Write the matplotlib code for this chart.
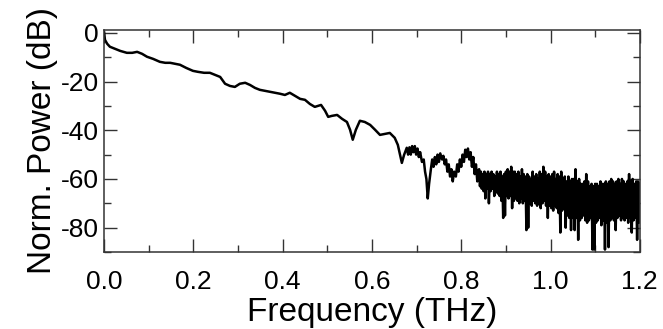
import matplotlib
matplotlib.use("Agg")
import matplotlib.pyplot as plt
from matplotlib.ticker import MultipleLocator

plt.rcParams.update(
    {
        "font.family": ["Liberation Sans", "DejaVu Sans"],
        "axes.unicode_minus": False,
    }
)

# spectrum: smooth roll-off up to ~0.84 THz
FREQ_LOW = [
    0.000, 0.002, 0.007, 0.013, 0.025, 0.036, 0.051, 0.063, 0.074, 0.085,
    0.096, 0.110, 0.125, 0.137, 0.148, 0.159, 0.170, 0.184, 0.199, 0.210,
    0.224, 0.237, 0.248, 0.260, 0.271, 0.282, 0.293, 0.304, 0.316, 0.327,
    0.338, 0.349, 0.360, 0.372, 0.383, 0.394, 0.405, 0.416, 0.428, 0.439,
    0.450, 0.461, 0.472, 0.479, 0.486, 0.495, 0.502, 0.510, 0.522, 0.533,
    0.544, 0.551, 0.557, 0.564, 0.573, 0.584, 0.596, 0.607, 0.618, 0.629,
    0.640, 0.651, 0.658, 0.663, 0.667, 0.672, 0.678, 0.681, 0.684, 0.687,
    0.690, 0.693, 0.696, 0.699, 0.702, 0.705, 0.708, 0.712, 0.716, 0.719,
    0.722, 0.725, 0.728, 0.732, 0.735, 0.738, 0.741, 0.744, 0.747, 0.750,
    0.753, 0.757, 0.760, 0.763, 0.766, 0.769, 0.772, 0.775, 0.778, 0.781,
    0.784, 0.788, 0.791, 0.794, 0.797, 0.800, 0.803, 0.806, 0.809, 0.812,
    0.815, 0.818, 0.821, 0.824, 0.827, 0.830, 0.833, 0.836, 0.838,
]
POWER_LOW = [
    0.0, -2.9, -4.5, -5.7, -6.6, -7.4, -8.2, -8.2, -7.8, -8.6,
    -9.8, -10.7, -11.9, -12.3, -12.3, -12.7, -13.1, -14.4, -15.6, -16.0,
    -16.4, -16.4, -17.2, -18.1, -20.9, -21.8, -22.2, -20.9, -20.5, -21.4,
    -22.6, -23.4, -23.8, -24.2, -24.6, -25.0, -25.5, -24.6, -25.9, -27.1,
    -27.5, -29.2, -30.4, -30.0, -29.6, -32.0, -34.5, -34.1, -33.7, -35.3,
    -36.6, -39.8, -43.9, -39.8, -36.1, -36.6, -37.8, -39.8, -41.9, -41.5,
    -41.1, -43.1, -46.0, -50.1, -53.4, -50.1, -47.2, -50.0, -47.0, -50.0,
    -46.5, -49.0, -46.5, -50.0, -47.5, -51.0, -49.0, -53.0, -52.0, -57.0,
    -60.0, -68.0, -62.0, -56.0, -52.0, -55.0, -51.0, -54.0, -50.0, -53.0,
    -49.5, -52.0, -50.5, -54.0, -52.0, -57.0, -54.0, -59.0, -56.0, -61.0,
    -57.0, -59.0, -54.0, -57.0, -52.0, -55.0, -50.0, -53.0, -48.0, -51.0,
    -47.5, -52.0, -49.0, -55.0, -51.0, -58.0, -54.0, -61.0, -57.0,
]

# noise floor above ~0.84 THz
FREQ_HIGH = [
    0.840, 0.842, 0.844, 0.846, 0.848, 0.850, 0.852, 0.854, 0.856, 0.858,
    0.860, 0.862, 0.864, 0.866, 0.868, 0.870, 0.872, 0.874, 0.876, 0.878,
    0.880, 0.882, 0.884, 0.886, 0.888, 0.890, 0.892, 0.894, 0.896, 0.898,
    0.900, 0.902, 0.904, 0.906, 0.908, 0.910, 0.912, 0.914, 0.916, 0.918,
    0.920, 0.922, 0.924, 0.926, 0.928, 0.930, 0.932, 0.934, 0.936, 0.938,
    0.940, 0.942, 0.944, 0.946, 0.948, 0.950, 0.952, 0.954, 0.956, 0.958,
    0.960, 0.962, 0.964, 0.966, 0.968, 0.970, 0.972, 0.974, 0.976, 0.978,
    0.980, 0.982, 0.984, 0.986, 0.988, 0.990, 0.992, 0.994, 0.996, 0.998,
    1.000, 1.002, 1.004, 1.006, 1.008, 1.010, 1.012, 1.014, 1.016, 1.018,
    1.020, 1.022, 1.024, 1.026, 1.028, 1.030, 1.032, 1.034, 1.036, 1.038,
    1.040, 1.042, 1.044, 1.046, 1.048, 1.050, 1.052, 1.054, 1.056, 1.058,
    1.060, 1.062, 1.064, 1.066, 1.068, 1.070, 1.072, 1.074, 1.076, 1.078,
    1.080, 1.082, 1.084, 1.086, 1.088, 1.090, 1.092, 1.094, 1.096, 1.098,
    1.100, 1.102, 1.104, 1.106, 1.108, 1.110, 1.112, 1.114, 1.116, 1.118,
    1.120, 1.122, 1.124, 1.126, 1.128, 1.130, 1.132, 1.134, 1.136, 1.138,
    1.140, 1.142, 1.144, 1.146, 1.148, 1.150, 1.152, 1.154, 1.156, 1.158,
    1.160, 1.162, 1.164, 1.166, 1.168, 1.170, 1.172, 1.174, 1.176, 1.178,
    1.180, 1.182, 1.184, 1.186, 1.188, 1.190, 1.192, 1.194, 1.196, 1.198,
    1.200,
]
POWER_HIGH = [
    -56, -63, -57, -64, -58, -65, -57, -68, -58, -64,
    -57, -70, -58, -65, -57, -64, -58, -67, -59, -65,
    -57, -66, -58, -67, -57, -69, -59, -76, -58, -75,
    -57, -67, -56, -68, -57, -67, -55, -72, -57, -69,
    -57, -68, -58, -69, -57, -70, -59, -68, -56, -70,
    -58, -69, -59, -81, -58, -80, -59, -70, -60, -71,
    -57, -69, -59, -70, -58, -71, -60, -70, -57, -72,
    -58, -70, -55, -69, -57, -71, -59, -76, -58, -71,
    -59, -72, -58, -73, -57, -71, -60, -72, -58, -74,
    -59, -82, -57, -73, -60, -72, -59, -80, -61, -75,
    -59, -76, -61, -81, -60, -76, -60, -81, -56, -76,
    -61, -85, -60, -77, -62, -76, -62, -75, -61, -77,
    -58, -78, -61, -77, -63, -76, -62, -89, -63, -89,
    -62, -78, -62, -77, -63, -76, -61, -79, -62, -77,
    -62, -89, -61, -78, -62, -88, -61, -77, -60, -76,
    -61, -77, -62, -81, -61, -76, -60, -75, -62, -77,
    -60, -76, -61, -77, -62, -76, -61, -78, -58, -76,
    -61, -82, -60, -77, -62, -76, -61, -85, -61, -78,
    -62,
]

X_TICKS = [0.0, 0.2, 0.4, 0.6, 0.8, 1.0, 1.2]
Y_TICKS = [0, -20, -40, -60, -80]

fig = plt.figure(figsize=(6.63, 3.29), dpi=100)
ax = fig.add_axes([0.157, 0.234, 0.808, 0.675])

ax.plot(FREQ_LOW + FREQ_HIGH, POWER_LOW + POWER_HIGH, color="black", linewidth=1.8)

ax.set_xlim(0, 1.2)
ax.set_ylim(-90, 1.2)
ax.set_xticks(X_TICKS)
ax.set_xticklabels([f"{t:.1f}" for t in X_TICKS])
ax.set_yticks(Y_TICKS)
ax.set_yticklabels([str(t) for t in Y_TICKS])
ax.xaxis.set_minor_locator(MultipleLocator(0.1))
ax.yaxis.set_minor_locator(MultipleLocator(10))

ax.tick_params(which="both", direction="in", top=True, right=True, width=1.0,
               color="#333333", labelsize=19)
ax.tick_params(which="major", length=9.5)
ax.tick_params(which="minor", length=5)
ax.tick_params(axis="x", pad=13)
ax.tick_params(axis="y", pad=4)
for spine in ax.spines.values():
    spine.set_linewidth(1.1)
    spine.set_color("#333333")

ax.set_xlabel("Frequency (THz)", fontsize=24, labelpad=2)
ax.set_ylabel("Norm. Power (dB)", fontsize=24, labelpad=2)

fig.savefig("out.png", dpi=100)
